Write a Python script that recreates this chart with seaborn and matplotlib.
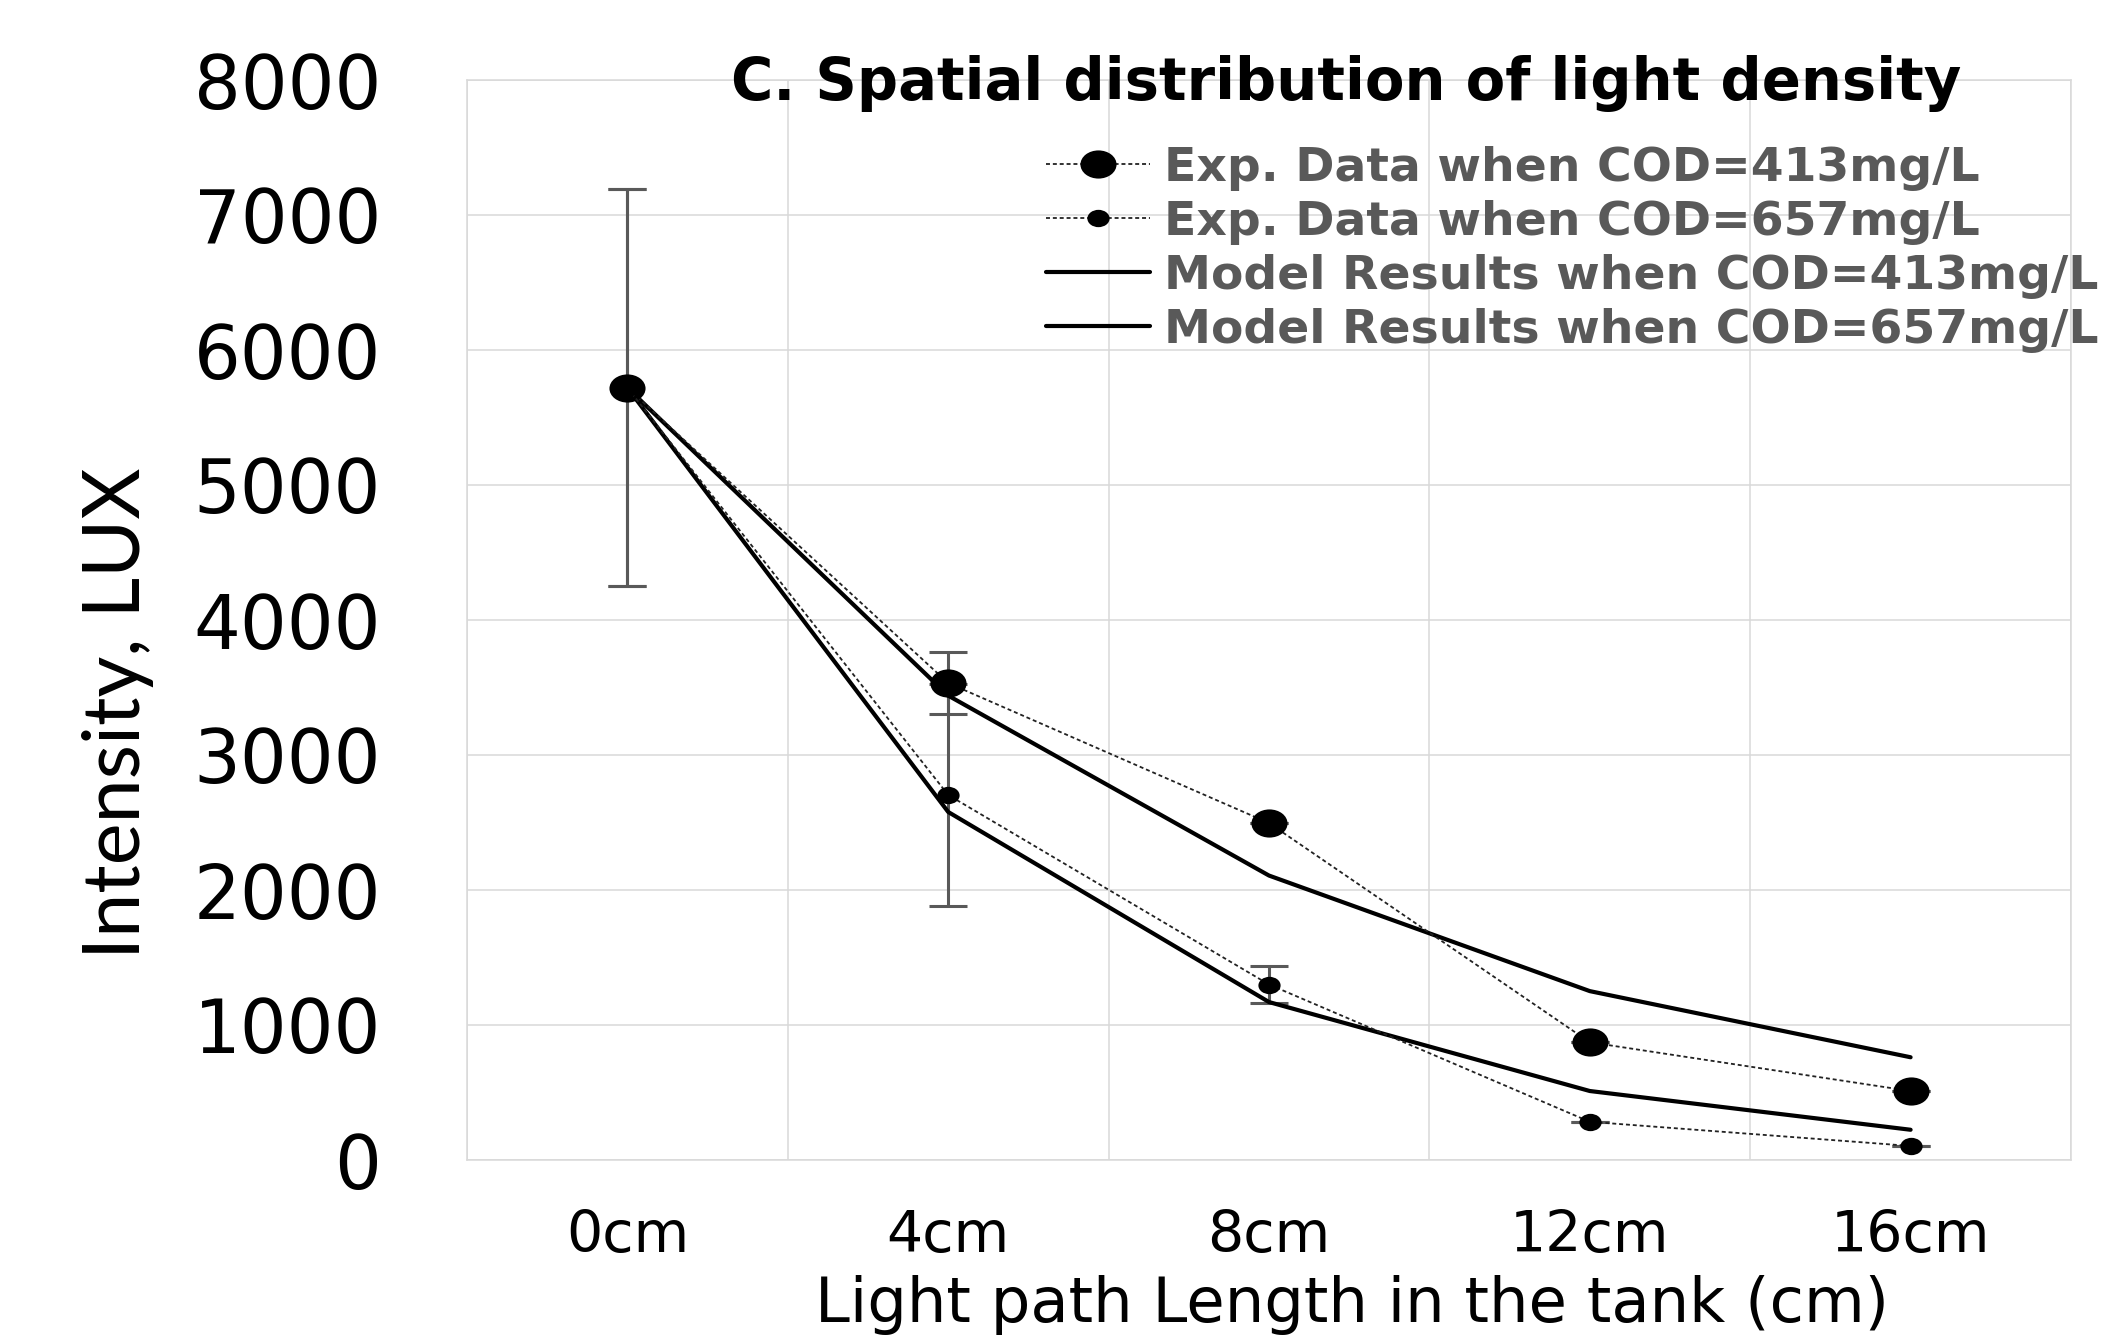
import numpy as np
import pandas as pd
import matplotlib
matplotlib.use("Agg")
import matplotlib.pyplot as plt
from matplotlib.path import Path
from matplotlib.transforms import Affine2D
import seaborn as sns

# ---------------- data ----------------
categories = ["0cm", "4cm", "8cm", "12cm", "16cm"]
exp_413 = [5720, 3533, 2496, 872, 511]
exp_413_err = [1470, 230, 0, 0, 0]
exp_657 = [5720, 2704, 1300, 283, 104]
exp_657_err = [1470, 820, 140, 0, 0]
model_413 = [5720, 3440, 2107, 1251, 761]
model_657 = [5720, 2578, 1170, 511, 224]
labels = ["Exp. Data when COD=413mg/L",
          "Exp. Data when COD=657mg/L",
          "Model Results when COD=413mg/L",
          "Model Results when COD=657mg/L"]
title = "C. Spatial distribution of light density"
xlabel = "Light path Length in the tank (cm)"
ylabel = "Intensity, LUX"
yticks = [0, 1000, 2000, 3000, 4000, 5000, 6000, 7000, 8000]

# ---------------- style ----------------
sns.set_theme(style="white")
plt.rcParams["font.family"] = ["DejaVu Sans"]

W, H = 2109, 1336
fig = plt.figure(figsize=(W / 100, H / 100), dpi=100)
ax = fig.add_axes([467 / W, (H - 1160) / H, 1604 / W, 1080 / H])

x = np.arange(len(categories))
df = pd.DataFrame({"x": x, "exp413": exp_413, "exp657": exp_657,
                   "mod413": model_413, "mod657": model_657})

# elliptical marker (wider than tall, as in the reference)
ellipse = Path.unit_circle().transformed(Affine2D().scale(1.0, 0.78))

grid_c = "#d9d9d9"
err_c = "#595959"

# error bars (under markers)
ax.errorbar(x, exp_413, yerr=exp_413_err, fmt="none", ecolor=err_c,
            elinewidth=2.2, capsize=13.5, capthick=2.2, zorder=2)
ax.errorbar(x, exp_657, yerr=exp_657_err, fmt="none", ecolor=err_c,
            elinewidth=2.2, capsize=13.5, capthick=2.2, zorder=2)

dash = (0, (2.2, 1.6))
sns.lineplot(data=df, x="x", y="exp413", ax=ax, color="#222222", lw=1.3,
             linestyle=dash, marker=ellipse, markersize=26,
             markeredgewidth=0, markerfacecolor="black",
             label=labels[0], zorder=4)
sns.lineplot(data=df, x="x", y="exp657", ax=ax, color="#222222", lw=1.3,
             linestyle=dash, marker=ellipse, markersize=16,
             markeredgewidth=0, markerfacecolor="black",
             label=labels[1], zorder=4)
sns.lineplot(data=df, x="x", y="mod413", ax=ax, color="black", lw=3.0,
             label=labels[2], zorder=3)
sns.lineplot(data=df, x="x", y="mod657", ax=ax, color="black", lw=3.0,
             label=labels[3], zorder=3)

# axes
ax.set_xlim(-0.5, len(categories) - 0.5)
ax.set_ylim(0, 8000)
ax.set_yticks(yticks)
ax.set_yticklabels([str(v) for v in yticks])
ax.set_xticks(x)
ax.set_xticklabels(categories)
ax.set_xticks(np.arange(-0.5, len(categories), 1.0), minor=True)
ax.grid(False)
ax.grid(True, axis="y", which="major", color=grid_c, lw=1.1)
ax.grid(True, axis="x", which="minor", color=grid_c, lw=1.1)
ax.set_axisbelow(True)
for s in ax.spines.values():
    s.set_visible(True)
    s.set_color(grid_c)
    s.set_linewidth(1.1)
ax.tick_params(axis="y", which="both", length=0, pad=62,
               labelsize=53, labelcolor="black")
ax.tick_params(axis="x", which="both", length=0, pad=35,
               labelsize=41, labelcolor="black")

ax.set_xlabel(xlabel, fontsize=45, color="black")
ax.xaxis.label.set_va("baseline")
ax.xaxis.set_label_coords((1352 - 467) / 1604, -(1322 - 1160) / 1080)
ax.set_ylabel(ylabel, fontsize=57, color="black", family=["Lato", "DejaVu Sans"],
              fontweight="normal")
ax.yaxis.set_label_coords(-0.195, (1160 - 713) / 1080)

fig.text(1346 / W, 1 - 100 / H, title, ha="center", va="baseline",
         fontsize=41.5, fontweight="bold", color="black")

leg = ax.legend(loc="upper left", bbox_to_anchor=(1046 / W, 1 - 146 / H),
                bbox_transform=fig.transFigure, frameon=False,
                prop={"size": 34, "weight": "bold"}, labelcolor="#595959",
                handlelength=2.2, handletextpad=0.3, labelspacing=0.19,
                borderpad=0, borderaxespad=0)

fig.savefig("out.png", dpi=100, facecolor="white")
